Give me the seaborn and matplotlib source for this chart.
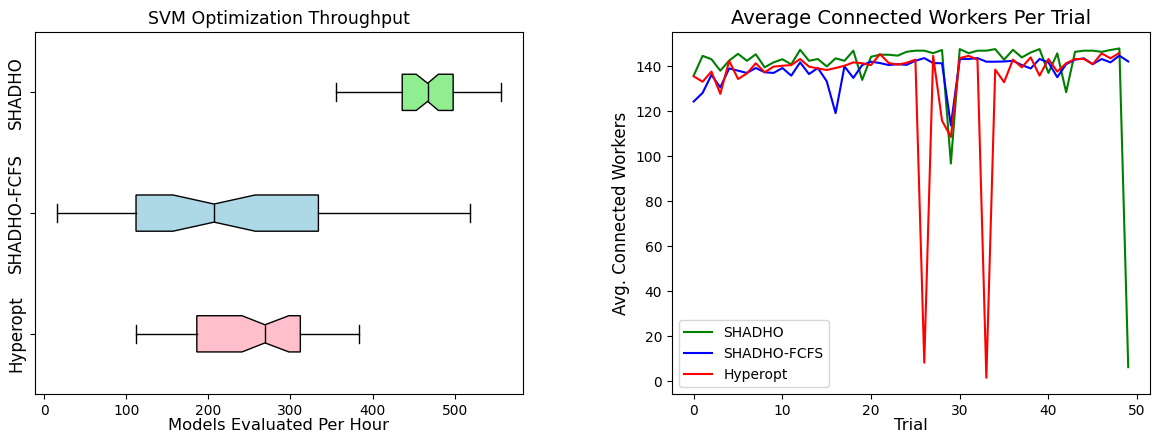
import numpy as np
import seaborn as sns
import matplotlib.pyplot as plt

# box statistics (bottom to top)
methods = ["Hyperopt", "SHADHO-FCFS", "SHADHO"]
box_colors = ["pink", "lightblue", "lightgreen"]
whis_lo = [112, 16, 356]
q1 = [186, 112, 436]
median = [269, 207, 467]
q3 = [312, 334, 498]
whis_hi = [384, 518, 556]
ci_lo = [241, 157, 453]
ci_hi = [298, 257, 480]

# average connected workers per trial
shadho = [135.9, 144.7, 143.2, 138.1, 142.6, 145.6, 142.5, 145.4, 139.6, 141.8,
          143.2, 140.9, 147.4, 142.5, 143.3, 140.0, 143.6, 142.5, 147.0, 134.0,
          144.3, 145.2, 145.2, 144.8, 146.5, 147.0, 147.0, 145.9, 147.3, 96.8,
          147.7, 145.9, 147.0, 147.0, 147.7, 143.0, 147.4, 144.0, 146.2, 147.7,
          137.1, 145.8, 128.5, 146.5, 147.0, 147.0, 146.5, 147.3, 148.0, 6.2]
shadho_fcfs = [124.4, 128.2, 136.2, 130.7, 139.1, 138.1, 137.1, 139.3, 137.4, 137.1,
               139.3, 135.9, 141.8, 136.6, 139.3, 133.4, 119.2, 140.0, 134.9, 140.6,
               142.1, 141.5, 140.6, 141.0, 140.7, 142.5, 143.7, 141.5, 141.4, 113.7,
               143.3, 143.3, 143.7, 142.1, 142.1, 142.2, 142.5, 140.6, 139.1, 143.3,
               141.8, 135.2, 141.0, 143.0, 143.6, 141.0, 143.3, 141.8, 144.8, 142.2]
hyperopt = [135.6, 133.2, 137.7, 127.8, 142.5, 134.4, 136.9, 141.4, 137.4, 139.9,
            140.3, 140.6, 143.3, 139.9, 139.1, 138.4, 139.3, 140.3, 141.8, 141.4,
            140.6, 145.5, 141.5, 140.8, 141.6, 143.0, 8.2, 144.7, 115.9, 108.6,
            143.7, 144.7, 143.0, 1.5, 138.6, 133.0, 143.0, 139.6, 144.0, 135.9,
            143.3, 137.7, 141.4, 143.3, 143.3, 141.0, 145.8, 143.6, 146.0]

fig = plt.figure(figsize=(11.54, 4.38), dpi=100)
ax1 = fig.add_axes([0.0303, 0.1, 0.4229, 0.827])
ax2 = fig.add_axes([0.5823, 0.1, 0.4142, 0.827])

# left: notched horizontal boxes
stats = []
for i in range(len(methods)):
    stats.append({
        "label": methods[i],
        "whislo": whis_lo[i], "q1": q1[i], "med": median[i],
        "q3": q3[i], "whishi": whis_hi[i],
        "cilo": ci_lo[i], "cihi": ci_hi[i], "fliers": [],
    })
bp = ax1.bxp(stats, orientation="horizontal", shownotches=True, patch_artist=True,
             widths=0.3, showfliers=False, medianprops={"color": "black"})
for patch, c in zip(bp["boxes"], box_colors):
    patch.set_facecolor(c)
    patch.set_edgecolor("black")
ax1.set_yticklabels(methods, rotation=90, va="center", fontsize=12)
ax1.set_xlabel("Models Evaluated Per Hour", fontsize=11.8, labelpad=0)
ax1.set_title("SVM Optimization Throughput", fontsize=12.5)

# right: line plot
sns.lineplot(x=np.arange(len(shadho)), y=shadho, color="green", label="SHADHO", ax=ax2)
sns.lineplot(x=np.arange(len(shadho_fcfs)), y=shadho_fcfs, color="blue", label="SHADHO-FCFS", ax=ax2)
sns.lineplot(x=np.arange(len(hyperopt)), y=hyperopt, color="red", label="Hyperopt", ax=ax2)
ax2.set_xlabel("Trial", fontsize=11.8, labelpad=0)
ax2.set_ylabel("Avg. Connected Workers", fontsize=12)
ax2.set_title("Average Connected Workers Per Trial", fontsize=14)
ax2.set_xticks([0, 10, 20, 30, 40, 50])
ax2.set_yticks(range(0, 141, 20))
ax2.legend(loc="lower left", fontsize=10)

plt.savefig("out.png", dpi=100)
